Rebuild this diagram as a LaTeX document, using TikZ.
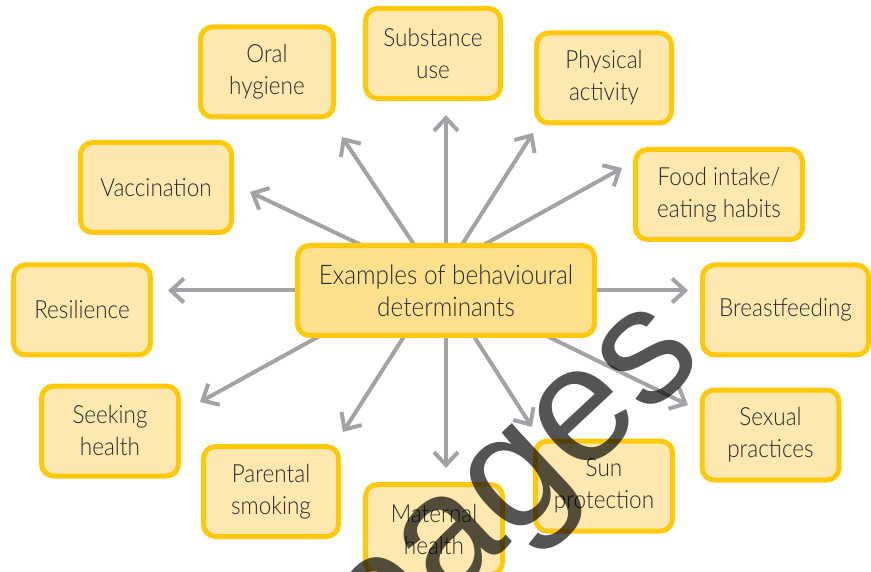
\documentclass[tikz,border=0pt]{standalone}
\usepackage{fontspec}
\setmainfont{Lato Light}[FakeStretch=0.9]
\newfontfamily\stampfont{Liberation Sans}
\usetikzlibrary{arrows.meta,backgrounds}
\definecolor{gold}{HTML}{FFC90A}
\definecolor{leaffill}{HTML}{FDE8B0}
\definecolor{hubfill}{HTML}{FDE08E}
\definecolor{spokegray}{HTML}{A3A3A7}
\definecolor{ink}{HTML}{2B2B2B}
\tikzset{
  box/.style={draw=gold, line width=5pt, rounded corners=12pt, fill=leaffill, text=ink,
    align=center, inner sep=0pt, minimum height=90pt, font=\fontsize{25}{32}\selectfont},
  hubbox/.style={box, fill=hubfill, font=\fontsize{27}{32}\selectfont},
  spoke/.style={draw=spokegray, line width=4pt, -{Straight Barb[length=13pt,width=24pt]},
    shorten <=-12pt},
}
\begin{document}
\begin{tikzpicture}[x=1pt, y=-1pt]
  \useasboundingbox (0,0) rectangle (871,572);
  \node[hubbox, minimum width=297pt] (hub) at (446,290.5) {Examples of behavioural\\determinants};
  \foreach \n/\x/\y/\w/\t in {
      oral/267/72/138/{Oral\\hygiene},
      subst/433/53.5/140/{Substance\\use},
      phys/604/78/140/{Physical\\activity},
      vacc/156/187.5/156/{Vaccination},
      food/719/194.5/172/{Food intake/\\eating habits},
      resil/82/310/142/{Resilience},
      breast/785.5/310/171/{Breastfeeding},
      seek/110/431/142/{Seeking\\health},
      sexual/770.5/435/142/{Sexual\\practices},
      parent/271/491.5/140/{Parental\\smoking},
      maternal/434/529.5/142/{Maternal\\health},
      sun/604/486/142/{Sun\\protection}}
    \node[box, minimum width={(\w-5)*1pt}] (\n) at (\x,\y) {\t};
  \foreach \n/\x/\y in {resil/168/290.5, vacc/250/192, oral/342/137, subst/446/115,
      phys/533/133, food/622/168, breast/688/290.5, sexual/688/405, sun/532/427,
      maternal/446/468, parent/343/432, seek/200/402}
    \coordinate (\n-tip) at (\x,\y);
  \begin{scope}[on background layer]
    \foreach \n/\a/\dx in {resil/west/0, vacc/north/-89, oral/north/-33, subst/north/0,
        phys/north/17, food/north/41, breast/east/0, sexual/south/105, sun/south/29,
        maternal/south/0, parent/south/-43, seek/south/-130}
      \draw[spoke] ([xshift=\dx pt]hub.\a) -- (\n-tip);
  \end{scope}
  \node[rotate=43, anchor=base, inner sep=0pt, text=black, text opacity=0.67,
    font=\stampfont\fontsize{165}{165}\selectfont] (stamp) at (543,514) {pages};
\end{tikzpicture}
\end{document}
